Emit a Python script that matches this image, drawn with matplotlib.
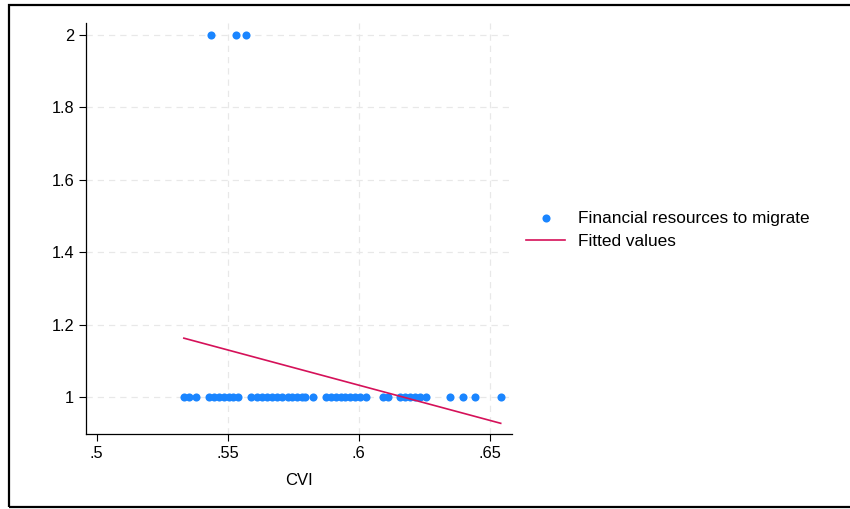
import matplotlib
matplotlib.use("Agg")
import matplotlib.pyplot as plt
from matplotlib.patches import Rectangle

plt.rcParams['font.family'] = ['Liberation Sans', 'DejaVu Sans']

# CVI values for observations with financial resources = 1 and = 2
cvi_one = [0.5333, 0.5352, 0.5379, 0.5428, 0.5447, 0.5466, 0.5486, 0.5505, 0.5520,
           0.5539, 0.5588, 0.5611, 0.5630, 0.5650, 0.5669, 0.5688, 0.5707, 0.5730,
           0.5745, 0.5764, 0.5783, 0.5794, 0.5825, 0.5875, 0.5894, 0.5913, 0.5932,
           0.5947, 0.5966, 0.5985, 0.6004, 0.6027, 0.6092, 0.6111, 0.6157, 0.6176,
           0.6195, 0.6214, 0.6233, 0.6256, 0.6347, 0.6397, 0.6443, 0.6542]
cvi_two = [0.5436, 0.5531, 0.5569]
fin_one = [1] * len(cvi_one)
fin_two = [2] * len(cvi_two)

fit_x = [0.5333, 0.6542]
fit_y = [1.163, 0.928]

xticks = [0.5, 0.55, 0.6, 0.65]
xticklabels = [".5", ".55", ".6", ".65"]
yticks = [1, 1.2, 1.4, 1.6, 1.8, 2]
yticklabels = ["1", "1.2", "1.4", "1.6", "1.8", "2"]

blue = "#1a85ff"
red = "#d51159"

fig = plt.figure(figsize=(8.5, 5.09), dpi=100)
ax = fig.add_axes([0.101, 0.147, 0.501, 0.808])

ax.scatter(cvi_one + cvi_two, fin_one + fin_two, s=34, color=blue, linewidths=0,
           zorder=3, label="Financial resources to migrate")
ax.plot(fit_x, fit_y, color=red, lw=1.2, zorder=4, label="Fitted values")

ax.set_xlim(0.4959, 0.6584)
ax.set_ylim(0.898, 2.033)
ax.set_xticks(xticks)
ax.set_xticklabels(xticklabels)
ax.set_yticks(yticks)
ax.set_yticklabels(yticklabels)
ax.tick_params(labelsize=11.8, length=5, width=0.8, direction="out", colors="black")
ax.set_xlabel("CVI", fontsize=12, labelpad=9)

for s in ["top", "right"]:
    ax.spines[s].set_visible(False)
for s in ["left", "bottom"]:
    ax.spines[s].set_linewidth(0.9)

ax.grid(True, color="#e8e8e8", linestyle=(0, (5, 4)), linewidth=0.9)
ax.set_axisbelow(True)
# no vertical gridline at .5
ax.xaxis.get_gridlines()[0].set_visible(False)

fig.legend(loc="center left", bbox_to_anchor=(0.601, 0.548), frameon=False,
           fontsize=12.4, handlelength=2.27, handletextpad=0.7, labelspacing=0.49)

fig.patches.append(Rectangle((0.011, 0.004), 1.1, 0.986, transform=fig.transFigure,
                             fill=False, edgecolor="black", linewidth=1.6))

fig.savefig("out.png", dpi=100)
